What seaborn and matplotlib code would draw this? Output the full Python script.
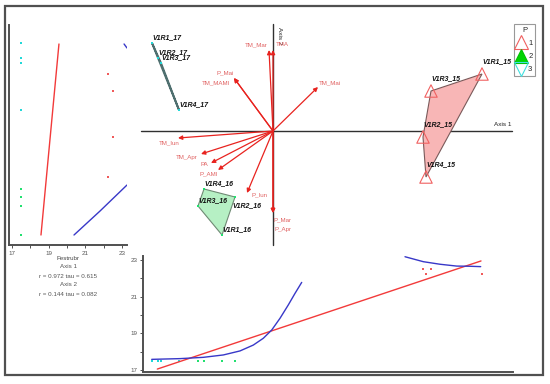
import numpy as np
import pandas as pd
import matplotlib
matplotlib.use("Agg")
import matplotlib.pyplot as plt
from matplotlib.patches import Polygon, Rectangle
from matplotlib.lines import Line2D
import seaborn as sns

# ---------------- data ----------------
samples = ['V1R1_15', 'V1R2_15', 'V1R3_15', 'V1R4_15',
           'V1R1_16', 'V1R2_16', 'V1R3_16', 'V1R4_16',
           'V1R1_17', 'V1R2_17', 'V1R3_17', 'V1R4_17']
group = [1, 1, 1, 1, 2, 2, 2, 2, 3, 3, 3, 3]
axis1 = [2.09, 1.50, 1.58, 1.53, -0.51, -0.38, -0.75, -0.69, -1.21, -1.15, -1.12, -0.94]
axis2 = [0.57, -0.06, 0.40, -0.46, -1.04, -0.66, -0.75, -0.58, 0.88, 0.73, 0.68, 0.21]
festrubr = [22.25, 22.5, 22.5, 22.25, 17.5, 17.5, 17.5, 17.5, 17.5, 17.5, 17.5, 17.5]

var_names = ['TM_Mar', 'TMA', 'P_Mai', 'TM_MAMI', 'TM_Mai', 'TM_Iun',
             'TM_Apr', 'PA', 'P_AMI', 'P_Iun', 'P_Mar', 'P_Apr']
vec_x = [-0.04, 0.0, -0.39, -0.39, 0.45, -0.95, -0.72, -0.62, -0.55, -0.26, 0.0, 0.0]
vec_y = [0.81, 0.81, 0.53, 0.53, 0.44, -0.07, -0.23, -0.32, -0.39, -0.62, -0.82, -0.82]

# left panel fits (Festrubr vs Axis 2)
left_lin_f = [18.58, 19.56]
left_lin_a2 = [-1.04, 0.87]
left_curve1_f = [20.38, 21.8, 23.27]
left_curve1_a2 = [-1.04, -0.80, -0.54]
left_curve2_f = [23.11, 23.27]
left_curve2_a2 = [0.87, 0.83]

# bottom panel fits (Axis 1 vs Festrubr)
bot_lin_a1 = [-1.157, 2.08]
bot_lin_f = [17.05, 22.95]
bot_curve1_a1 = [-1.213, -0.93, -0.697, -0.497, -0.33, -0.197, -0.097, -0.013, 0.07, 0.153, 0.22, 0.287]
bot_curve1_f = [17.58, 17.62, 17.69, 17.82, 18.04, 18.36, 18.73, 19.18, 19.82, 20.55, 21.18, 21.78]
bot_curve2_a1 = [1.32, 1.503, 1.67, 1.837, 1.97, 2.077]
bot_curve2_f = [23.18, 22.91, 22.77, 22.67, 22.66, 22.64]

stats_text = ['Axis 1', 'r = 0.972 tau = 0.615', 'Axis 2', 'r = 0.144 tau = 0.082']
tick_vals = [17, 18, 19, 20, 21, 22, 23]
tick_labels = ['17', '', '19', '', '21', '', '23']

df = pd.DataFrame({'sample': samples, 'P': group, 'a1': axis1, 'a2': axis2, 'F': festrubr})

# ---------------- style ----------------
sns.set_style('white')
plt.rcParams['font.family'] = ['Liberation Sans', 'DejaVu Sans']

W, H = 550, 384
fig = plt.figure(figsize=(5.5, 3.84), dpi=100)
PX = 0.72  # points per pixel

pal_pts = {1: '#f05a5a', 2: '#22e070', 3: '#22d8d8'}
red_line = '#f23a3a'
blue_line = '#3838c8'
vec_col = '#e8231f'
lab_col = '#e06060'
spine_col = '#505050'

# ---------------- main biplot ----------------
axm = fig.add_axes([0, 0, 1, 1])
axm.set_xlim(-2.73, 2.77)
axm.set_ylim(-2.53, 1.31)
axm.axis('off')

axm.plot([-1.32, 2.39], [0, 0], color='#303030', lw=1.0, zorder=1)
axm.plot([0, 0], [1.07, -1.14], color='#303030', lw=1.0, zorder=1)
axm.text(2.30, 0.06, 'Axis 1', fontsize=4.6, color='#222', ha='center', va='center')
axm.text(0.06, 0.95, 'Axis 2', fontsize=4.6, color='#222', ha='center', va='center', rotation=270)

# convex hulls
def hull(pts):
    pts = sorted(pts)
    def cross(o, a, b):
        return (a[0]-o[0])*(b[1]-o[1]) - (a[1]-o[1])*(b[0]-o[0])
    lower, upper = [], []
    for p in pts:
        while len(lower) >= 2 and cross(lower[-2], lower[-1], p) <= 0:
            lower.pop()
        lower.append(p)
    for p in reversed(pts):
        while len(upper) >= 2 and cross(upper[-2], upper[-1], p) <= 0:
            upper.pop()
        upper.append(p)
    return lower[:-1] + upper[:-1]

hull_style = {1: ('#f8b6b6', '#7a5a5a'), 2: ('#b6f0c4', '#6f8a74'), 3: ('#bfeeee', '#4f6f6f')}
for g in [1, 2, 3]:
    sub = df[df.P == g]
    h = hull(list(zip(sub.a1, sub.a2)))
    fc, ec = hull_style[g]
    axm.add_patch(Polygon(h, closed=True, facecolor=fc, edgecolor=ec,
                          lw=1.4 if g == 3 else 0.8, zorder=2))

# vectors
lab_off = {'TM_Mar': (-13, 5), 'TMA': (9, 5), 'P_Mai': (-9, 5), 'TM_MAMI': (-18, -5),
           'TM_Mai': (12, 4), 'TM_Iun': (-9, -5), 'TM_Apr': (-14, -4), 'PA': (-7, -2),
           'P_AMI': (-9, -4), 'P_Iun': (13, -2), 'P_Mar': (9, -7), 'P_Apr': (10, -17)}
for n, vx, vy in zip(var_names, vec_x, vec_y):
    axm.annotate('', xy=(vx, vy), xytext=(0, 0),
                 arrowprops=dict(arrowstyle='-|>', color=vec_col, lw=0.9,
                                 mutation_scale=6, shrinkA=0, shrinkB=0), zorder=3)
    dx, dy = lab_off[n]
    axm.annotate(n, xy=(vx, vy), xytext=(dx*PX, dy*PX), textcoords='offset points',
                 fontsize=4.4, color=lab_col, ha='center', va='center', zorder=4)

# sample points
sub1 = df[df.P == 1]
sns.scatterplot(data=sub1, x='a1', y='a2', marker='^', s=80, facecolor='none',
                edgecolor='#f06060', linewidth=0.8, ax=axm, legend=False, zorder=5)
sub23 = df[df.P != 1]
sns.scatterplot(data=sub23, x='a1', y='a2', hue='P', palette=pal_pts, marker='s', s=3,
                linewidth=0, ax=axm, legend=False, zorder=5)
axm.set_xlim(-2.73, 2.77)
axm.set_ylim(-2.53, 1.31)

for s, g, x, y in zip(samples, group, axis1, axis2):
    if s == 'V1R2_16':
        off = (-3, -9)
    elif g == 1:
        off = (0, 12)
    else:
        off = (0, 5)
    axm.annotate(s, xy=(x, y), xytext=(off[0]*PX, off[1]*PX), textcoords='offset points',
                 fontsize=5, fontweight='bold', fontstyle='italic', color='#111',
                 ha='left', va='center', zorder=6)

# legend
handles = [Line2D([], [], ls='', marker='^', ms=10, mfc='none', mec='#f06060', mew=0.8),
           Line2D([], [], ls='', marker='^', ms=10, mfc='#00d400', mec='#00c000', mew=0.8),
           Line2D([], [], ls='', marker='v', ms=10, mfc='none', mec='#40e0e0', mew=0.8)]
leg = fig.legend(handles, ['1', '2', '3'], title='P', loc='upper left',
                 bbox_to_anchor=(514/W, 1-24/H), frameon=True, fancybox=False,
                 edgecolor='#808080', fontsize=5.5, title_fontsize=5.5, handlelength=1.1,
                 handletextpad=0.35, labelspacing=0.75, borderpad=0.4, borderaxespad=0)
leg.get_frame().set_linewidth(0.8)

# ---------------- left panel ----------------
axl = fig.add_axes([9/W, (H-245)/H, 118/W, 220/H])
axl.set_facecolor('none')
sns.scatterplot(data=df, x='F', y='a2', hue='P', palette=pal_pts, marker='s', s=3,
                linewidth=0, ax=axl, legend=False)
sns.lineplot(x=left_lin_f, y=left_lin_a2, sort=False, estimator=None, color=red_line, lw=1.0, ax=axl)
sns.lineplot(x=left_curve1_f, y=left_curve1_a2, sort=False, estimator=None, color=blue_line, lw=1.0, ax=axl)
sns.lineplot(x=left_curve2_f, y=left_curve2_a2, sort=False, estimator=None, color=blue_line, lw=1.0, ax=axl)
axl.set_xlim(16.836, 23.27)
axl.set_ylim(-1.14, 1.06)
axl.set_xticks(tick_vals)
axl.set_xticklabels(tick_labels)
axl.set_yticks([])
axl.set_xlabel('Festrubr', fontsize=4.5, color='#444', labelpad=0.5)
axl.set_ylabel('')

# ---------------- bottom panel ----------------
axb = fig.add_axes([143/W, 12/H, 370/W, 116/H])
axb.set_facecolor('none')
sns.scatterplot(data=df, x='a1', y='F', hue='P', palette=pal_pts, marker='s', s=3,
                linewidth=0, ax=axb, legend=False)
sns.lineplot(x=bot_lin_a1, y=bot_lin_f, sort=False, estimator=None, color=red_line, lw=1.0, ax=axb)
sns.lineplot(x=bot_curve1_a1, y=bot_curve1_f, sort=False, estimator=None, color=blue_line, lw=1.0, ax=axb)
sns.lineplot(x=bot_curve2_a1, y=bot_curve2_f, sort=False, estimator=None, color=blue_line, lw=1.0, ax=axb)
axb.set_xlim(-1.30, 2.40)
axb.set_ylim(16.89, 23.22)
axb.set_yticks(tick_vals)
axb.set_yticklabels(tick_labels)
axb.set_xticks([])
axb.set_xlabel('')
axb.set_ylabel('')

for ax in (axl, axb):
    for sp in ['top', 'right']:
        ax.spines[sp].set_visible(False)
    for sp in ['left', 'bottom']:
        ax.spines[sp].set_visible(True)
        ax.spines[sp].set_color(spine_col)
        ax.spines[sp].set_linewidth(1.4)
    ax.tick_params(axis='both', which='both', direction='out', length=2.5, width=0.7,
                   color=spine_col, labelsize=4.5, labelcolor='#555', pad=1.5,
                   bottom=True, left=True)
    ax.grid(False)
axl.tick_params(axis='y', left=False)
axb.tick_params(axis='x', bottom=False)

# stats text
for i, t in enumerate(stats_text):
    fig.text(68/W, 1-(267 + 9*i)/H, t, fontsize=4.5, color='#555', ha='center', va='center')

# ---------------- outer frame ----------------
axf = fig.add_axes([0, 0, 1, 1], zorder=-1)
axf.set_xlim(0, W)
axf.set_ylim(H, 0)
axf.axis('off')
axf.add_patch(Rectangle((5, 6), 538, 369, fill=False, edgecolor='#505050', lw=1.6))

fig.savefig('out.png', dpi=100)
